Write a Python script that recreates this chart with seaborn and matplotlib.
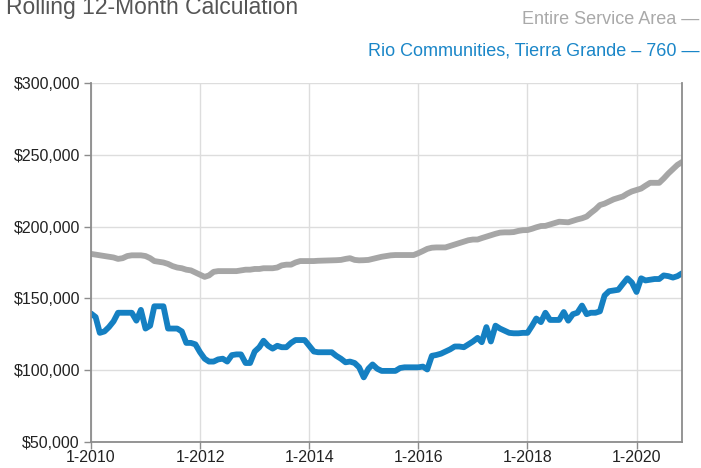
import matplotlib
matplotlib.use("Agg")
import matplotlib.pyplot as plt
import seaborn as sns
import pandas as pd

# monthly values, Jan 2010 .. Nov 2020 (thousands of dollars)
service_area = [
    181, 180.5, 180, 179.5, 179, 178.5, 177.5, 178, 179.5, 180, 180, 180,
    179.5, 178, 176, 175.5, 175, 174, 172.5, 171.5, 171, 170, 169.5, 168,
    166.5, 165, 166, 168.5, 169, 169, 169, 169, 169, 169.5, 170, 170,
    170.5, 170.5, 171, 171, 171, 171.5, 173, 173.5, 173.5, 175, 176, 176,
    176, 176, 176.2, 176.3, 176.4, 176.5, 176.6, 176.8, 177.5, 178, 176.8, 176.5,
    176.6, 176.8, 177.5, 178.3, 179, 179.5, 180, 180.2, 180.2, 180.2, 180.2, 180.2,
    181.5, 183, 184.5, 185.3, 185.5, 185.5, 185.5, 186.5, 187.5, 188.5, 189.5, 190.5,
    191, 191, 192, 193, 194, 195, 195.8, 196, 196, 196.2, 197, 197.5,
    197.6, 198.5, 199.5, 200.4, 200.5, 201.5, 202.5, 203.4, 203.2, 203, 204, 205,
    205.8, 207, 209.5, 212, 215, 216, 217.5, 219, 220, 221, 223, 224.5,
    225.5, 226.5, 228.5, 230.5, 230.5, 230.5, 233.5, 237, 240, 243, 245,
]
rio_communities = [
    139.5, 137, 126, 127, 130, 134, 140, 140, 140, 140, 134.5, 142,
    129, 131, 144.5, 144.5, 144.5, 129, 129, 129, 127, 119, 119, 118,
    112.5, 108, 106, 106, 107.5, 108, 106, 110.5, 111, 111, 105, 105,
    113, 116, 120.5, 117, 115, 117, 116, 116, 119, 121, 121, 121,
    117, 113, 112.5, 112.5, 112.5, 112.5, 110, 108, 105.5, 106, 105, 102,
    95, 101, 104, 101, 99.5, 99.5, 99.5, 99.5, 101.5, 102, 102, 102,
    102, 102.5, 100.5, 110, 110.6, 111.5, 113, 114.5, 116.5, 116.5, 116, 118,
    120, 122.5, 119.5, 130, 120, 131, 129, 127.5, 126, 125.7, 125.7, 126,
    126, 131, 136, 133.5, 140, 135, 135, 135, 140.5, 134.5, 139, 140,
    145, 139, 140, 140, 141, 152, 155, 155.5, 156, 160, 164, 161,
    154.5, 164, 162.5, 163, 163.5, 163.5, 166, 165.5, 164.5, 165.5, 167.5,
]
tick_years = [2010, 2012, 2014, 2016, 2018, 2020]
tick_labels = ["1-2010", "1-2012", "1-2014", "1-2016", "1-2018", "1-2020"]
y_ticks = [50000, 100000, 150000, 200000, 250000, 300000]

months = pd.date_range("2010-01-01", periods=len(service_area), freq="MS")
df = pd.DataFrame({
    "month": list(months) * 2,
    "value": [v * 1000 for v in service_area] + [v * 1000 for v in rio_communities],
    "series": ["Entire Service Area"] * len(service_area) + ["Rio"] * len(rio_communities),
})

sns.set_style("white")
plt.rcParams['font.family'] = ['Liberation Sans', 'DejaVu Sans']

gray = "#a6a6a6"
blue = "#1580c2"

fig = plt.figure(figsize=(7.01, 4.68), dpi=100)
ax = fig.add_axes([0.1298, 0.0556, 0.8432, 0.767])

sns.lineplot(data=df, x="month", y="value", hue="series",
             palette={"Entire Service Area": gray, "Rio": blue},
             linewidth=4.2, legend=False, ax=ax)

ax.set_xlim(months[0], months[-1])
ax.set_ylim(50000, 300000)
ax.set_xticks([pd.Timestamp(f"{y}-01-01") for y in tick_years])
ax.set_xticklabels(tick_labels, fontsize=11.5, color="#222222")
ax.set_yticks(y_ticks)
ax.set_yticklabels([f"${v:,}" for v in y_ticks], fontsize=11.5, color="#222222")
ax.set_xlabel("")
ax.set_ylabel("")

ax.grid(True, color="#dddddd", linewidth=1)
ax.set_axisbelow(True)
for side in ["left", "bottom", "right"]:
    ax.spines[side].set_color("#8c8c8c")
    ax.spines[side].set_linewidth(1.3)
ax.spines["top"].set_visible(False)
ax.tick_params(axis="both", length=5, width=1, color="#8c8c8c",
               left=True, bottom=True)
ax.tick_params(axis="x", pad=1)
ax.tick_params(axis="y", pad=3)

fig.text(0.008, 1 - 14 / 468, "Rolling 12-Month Calculation", fontsize=16.5,
         color="#555555", ha="left", va="baseline")
fig.text(0.998, 1 - 20 / 468, "Entire Service Area \u2014", fontsize=13,
         color="#a9a9a9", ha="right", va="center")
fig.text(0.998, 1 - 51 / 468, "Rio Communities, Tierra Grande \u2013 760 \u2014",
         fontsize=13, color="#1a86c8", ha="right", va="center")

fig.savefig("out.png", dpi=100)
